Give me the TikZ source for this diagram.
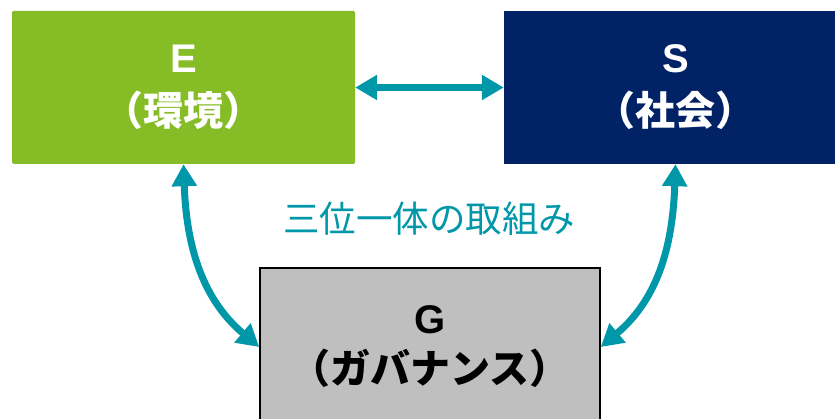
\documentclass[tikz,border=0pt]{standalone}
\usepackage{fontspec}
\setmainfont{Liberation Sans}
\newfontfamily\jp{Noto Sans CJK JP}
\usetikzlibrary{arrows.meta}
\definecolor{egreen}{HTML}{86BC25}
\definecolor{snavy}{HTML}{022266}
\definecolor{ggray}{HTML}{BFBFBF}
\definecolor{teal}{HTML}{0097A9}
\tikzset{
  box/.style={rectangle, inner sep=0pt, align=center, font=\bfseries\fontsize{40}{53}\selectfont},
  conn/.style={draw=teal, line width=7pt, {Triangle[length=22pt,width=24pt]}-{Triangle[length=22pt,width=24pt]}},
}
\begin{document}
\begin{tikzpicture}[x=1pt,y=1pt]
\useasboundingbox (0,0) rectangle (835,418);
\node[box, fill=egreen, text=white, minimum width=343pt, minimum height=153pt, rounded corners=1.5pt] (E) at (183.5,330.5) {E\\{\jp （環境）}};
\node[box, fill=snavy, text=white, minimum width=343pt, minimum height=153pt] (S) at (675.5,330.5) {S\\{\jp （社会）}};
\node[box, fill=ggray, draw=black, line width=1.5pt, text=black, minimum width=340pt, minimum height=158pt, font=\bfseries\fontsize{40}{50}\selectfont] (G) at (430,71) {G\\{\jp （ガバナンス）}};
\node[text=teal, font=\jp\fontsize{36.5}{40}\selectfont] (L) at (429,199) {三位一体の取組み};
\draw[conn] (E.east) -- (S.west);
\draw[conn] (E.south) to[out=-88, in=140] (G.west);
\draw[conn] (S.south) to[out=-92, in=40] (G.east);
\end{tikzpicture}
\end{document}
